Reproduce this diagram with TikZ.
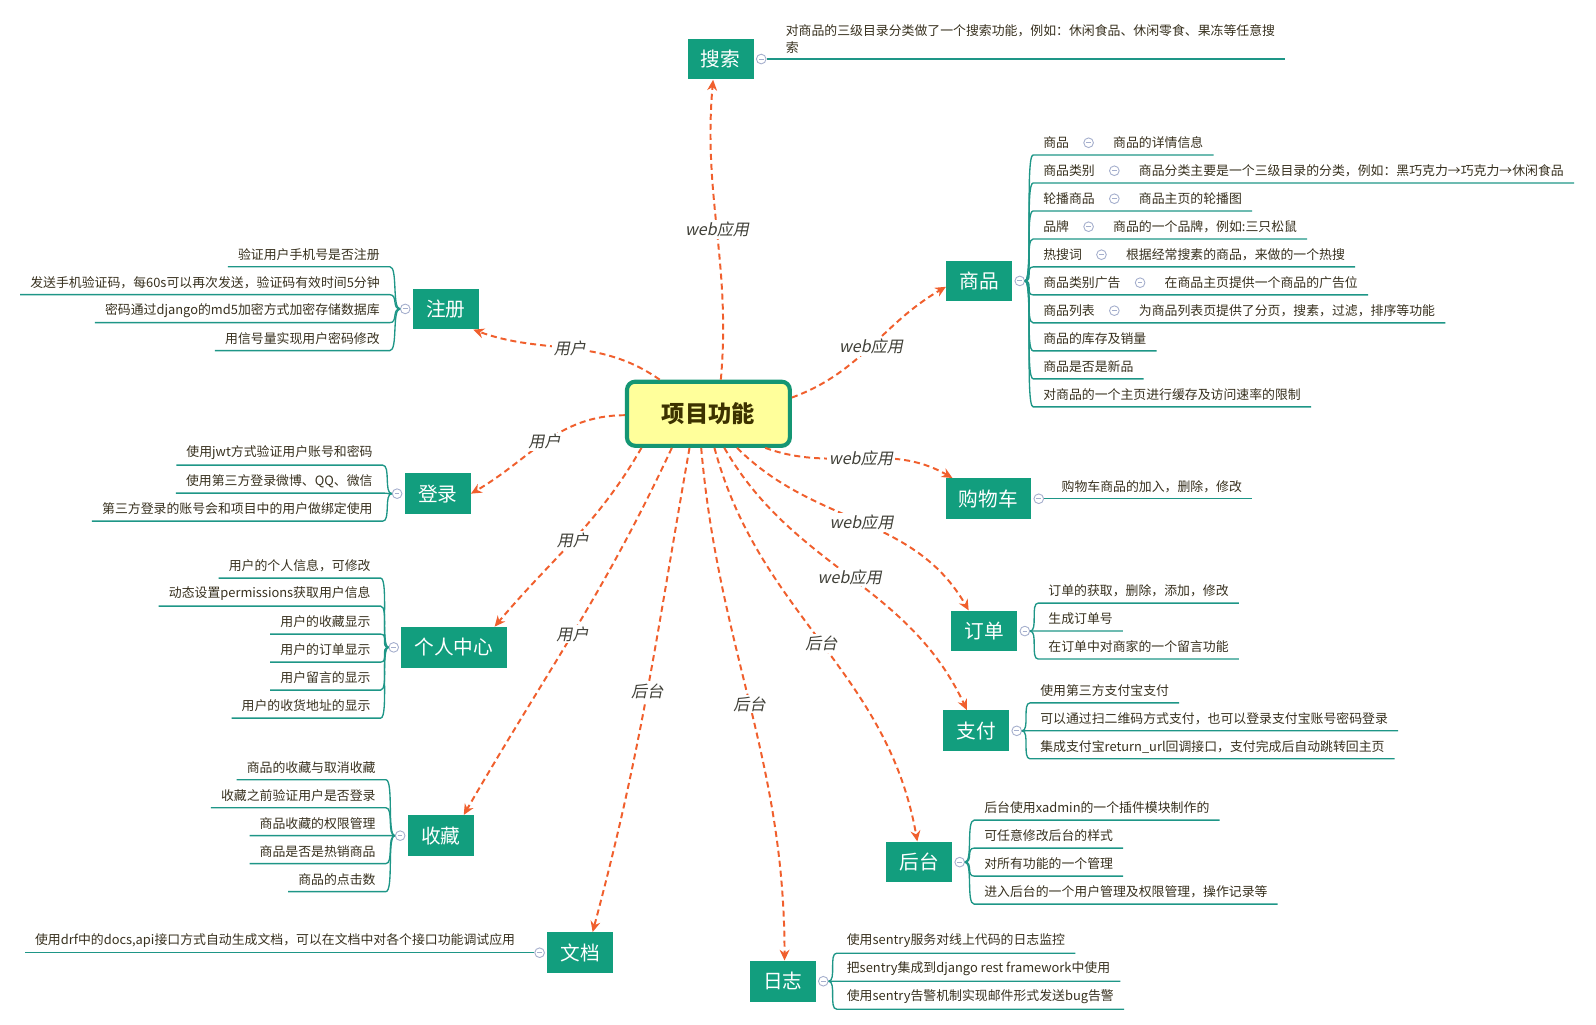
\documentclass[tikz,border=0pt]{standalone}
\usepackage{xcolor}
\usepackage{fontspec}
\setmainfont{Noto Sans CJK SC}
\newfontfamily\slantfont{Noto Sans CJK SC}[FakeSlant=0.2]
\usepackage{tikz}
\usetikzlibrary{arrows.meta, positioning}

\definecolor{topicgreen}{RGB}{18,158,126}
\definecolor{twiggreen}{RGB}{30,150,135}
\definecolor{rootyellow}{RGB}{255,255,155}
\definecolor{rootborder}{RGB}{20,150,115}
\definecolor{roottext}{RGB}{60,50,0}
\definecolor{linkorange}{RGB}{240,95,45}
\definecolor{leaftext}{RGB}{55,48,30}
\definecolor{tagtext}{RGB}{64,64,56}
\definecolor{foldgray}{RGB}{165,175,205}

\begin{document}
\begin{tikzpicture}[
    x=0.02cm, y=-0.02cm,
    node distance=0.07cm and 0pt,
    root/.style={rectangle, draw=rootborder, line width=2.3pt, fill=rootyellow, rounded corners=0.16cm, minimum width=3.2cm, minimum height=1.26cm, text=roottext, font=\fontsize{13}{15}\selectfont\bfseries},
    topic/.style={rectangle, fill=topicgreen, text=white, minimum height=0.8cm, inner xsep=0.26cm, font=\fontsize{11}{13}\selectfont},
    leaf/.style={rectangle, minimum height=0.48cm, inner ysep=0pt, inner xsep=0.2cm, outer sep=0pt, text=leaftext, font=\fontsize{7.2}{9.7}\selectfont},
    fold/.style={circle, draw=foldgray, fill=white, line width=0.5pt, minimum size=0.19cm, inner sep=0pt, path picture={\draw[foldgray, line width=0.5pt] ([xshift=-1.3pt]path picture bounding box.center) -- ([xshift=1.3pt]path picture bounding box.center);}},
    twig/.style={draw=twiggreen, line width=0.75pt},
    rtwig/.style={twig, out=0, in=180, distance=0.16cm},
    ltwig/.style={twig, out=180, in=0, distance=0.16cm},
    link/.style={-{Stealth[length=6pt, width=5.5pt]}, draw=linkorange, line width=1.1pt, dash pattern=on 3.4pt off 2.2pt},
    tag/.style={fill=white, inner sep=1pt, text=tagtext, font=\fontsize{9}{11}\selectfont\slantfont}
]
\useasboundingbox (0,0) rectangle (1568,1007);

% Central topic
\node[root] (root) at (696,406.5) {项目功能};

% Main topics
\node[topic] (search) at (708,58) {搜索};
\node[topic] (reg) at (438,303.5) {注册};
\node[topic] (login) at (430,485) {登录};
\node[topic] (center) at (446,636) {个人中心};
\node[topic] (fav) at (433,821) {收藏};
\node[topic] (doc) at (570,936) {文档};
\node[topic] (log) at (769,964) {日志};
\node[topic] (admin) at (903,847) {后台};
\node[topic] (pay) at (959,718) {支付};
\node[topic] (order) at (967,620) {订单};
\node[topic] (cart) at (971,490) {购物车};
\node[topic] (goods) at (962,276) {商品};

% Fold markers
\node[fold, right=0.04cm of search] (searchmk) {};
\node[fold, left=0.04cm of reg] (regmk) {};
\node[fold, left=0.04cm of login] (loginmk) {};
\node[fold, left=0.04cm of center] (centermk) {};
\node[fold, left=0.04cm of fav] (favmk) {};
\node[fold, left=0.04cm of doc] (docmk) {};
\node[fold, right=0.04cm of log] (logmk) {};
\node[fold, right=0.04cm of admin] (adminmk) {};
\node[fold, right=0.04cm of pay] (paymk) {};
\node[fold, right=0.04cm of order] (ordermk) {};
\node[fold, right=0.04cm of cart] (cartmk) {};
\node[fold, right=0.04cm of goods] (goodsmk) {};

% 搜索
\node[leaf, anchor=south west, align=left, minimum height=0pt, inner ysep=3pt] (search1) at (762,58) {对商品的三级目录分类做了一个搜索功能，例如：休闲食品、休闲零食、果冻等任意搜\\索};
\draw[twig] (searchmk.east) -- (search1.south west) -- (search1.south east);

% 注册
\node[leaf, anchor=south east] (reg1) at (383,262) {验证用户手机号是否注册};
\node[leaf, below left=of reg1.south east] (reg2) {发送手机验证码，每60s可以再次发送，验证码有效时间5分钟};
\node[leaf, below left=of reg2.south east] (reg3) {密码通过django的md5加密方式加密存储数据库};
\node[leaf, below left=of reg3.south east] (reg4) {用信号量实现用户密码修改};
\draw[ltwig] (regmk.west) to (reg1.south east) -- (reg1.south west);
\draw[ltwig] (regmk.west) to (reg2.south east) -- (reg2.south west);
\draw[ltwig] (regmk.west) to (reg3.south east) -- (reg3.south west);
\draw[ltwig] (regmk.west) to (reg4.south east) -- (reg4.south west);

% 登录
\node[leaf, anchor=south east] (login1) at (376,457) {使用jwt方式验证用户账号和密码};
\node[leaf, below left=of login1.south east] (login2) {使用第三方登录微博、QQ、微信};
\node[leaf, below left=of login2.south east] (login3) {第三方登录的账号会和项目中的用户做绑定使用};
\draw[ltwig] (loginmk.west) to (login1.south east) -- (login1.south west);
\draw[ltwig] (loginmk.west) to (login2.south east) -- (login2.south west);
\draw[ltwig] (loginmk.west) to (login3.south east) -- (login3.south west);

% 个人中心
\node[leaf, anchor=south east] (center1) at (374,568) {用户的个人信息，可修改};
\node[leaf, below left=of center1.south east] (center2) {动态设置permissions获取用户信息};
\node[leaf, below left=of center2.south east] (center3) {用户的收藏显示};
\node[leaf, below left=of center3.south east] (center4) {用户的订单显示};
\node[leaf, below left=of center4.south east] (center5) {用户留言的显示};
\node[leaf, below left=of center5.south east] (center6) {用户的收货地址的显示};
\draw[ltwig] (centermk.west) to (center1.south east) -- (center1.south west);
\draw[ltwig] (centermk.west) to (center2.south east) -- (center2.south west);
\draw[ltwig] (centermk.west) to (center3.south east) -- (center3.south west);
\draw[ltwig] (centermk.west) to (center4.south east) -- (center4.south west);
\draw[ltwig] (centermk.west) to (center5.south east) -- (center5.south west);
\draw[ltwig] (centermk.west) to (center6.south east) -- (center6.south west);

% 收藏
\node[leaf, anchor=south east] (fav1) at (379,766) {商品的收藏与取消收藏};
\node[leaf, below left=of fav1.south east] (fav2) {收藏之前验证用户是否登录};
\node[leaf, below left=of fav2.south east] (fav3) {商品收藏的权限管理};
\node[leaf, below left=of fav3.south east] (fav4) {商品是否是热销商品};
\node[leaf, below left=of fav4.south east] (fav5) {商品的点击数};
\draw[ltwig] (favmk.west) to (fav1.south east) -- (fav1.south west);
\draw[ltwig] (favmk.west) to (fav2.south east) -- (fav2.south west);
\draw[ltwig] (favmk.west) to (fav3.south east) -- (fav3.south west);
\draw[ltwig] (favmk.west) to (fav4.south east) -- (fav4.south west);
\draw[ltwig] (favmk.west) to (fav5.south east) -- (fav5.south west);

% 文档
\node[leaf, anchor=south east] (doc1) at (516,936) {使用drf中的docs,api接口方式自动生成文档，可以在文档中对各个接口功能调试应用};
\draw[twig] (docmk.west) -- (doc1.south east) -- (doc1.south west);

% 日志
\node[leaf, anchor=south west] (log1) at (822,936.5) {使用sentry服务对线上代码的日志监控};
\node[leaf, below right=of log1.south west] (log2) {把sentry集成到django rest framework中使用};
\node[leaf, below right=of log2.south west] (log3) {使用sentry告警机制实现邮件形式发送bug告警};
\draw[rtwig] (logmk.east) to (log1.south west) -- (log1.south east);
\draw[rtwig] (logmk.east) to (log2.south west) -- (log2.south east);
\draw[rtwig] (logmk.east) to (log3.south west) -- (log3.south east);

% 后台
\node[leaf, anchor=south west] (admin1) at (957,805.75) {后台使用xadmin的一个插件模块制作的};
\node[leaf, below right=of admin1.south west] (admin2) {可任意修改后台的样式};
\node[leaf, below right=of admin2.south west] (admin3) {对所有功能的一个管理};
\node[leaf, below right=of admin3.south west] (admin4) {进入后台的一个用户管理及权限管理，操作记录等};
\draw[rtwig] (adminmk.east) to (admin1.south west) -- (admin1.south east);
\draw[rtwig] (adminmk.east) to (admin2.south west) -- (admin2.south east);
\draw[rtwig] (adminmk.east) to (admin3.south west) -- (admin3.south east);
\draw[rtwig] (adminmk.east) to (admin4.south west) -- (admin4.south east);

% 支付
\node[leaf, anchor=south west] (pay1) at (1012,690.5) {使用第三方支付宝支付};
\node[leaf, below right=of pay1.south west] (pay2) {可以通过扫二维码方式支付，也可以登录支付宝账号密码登录};
\node[leaf, below right=of pay2.south west] (pay3) {集成支付宝return\_url回调接口，支付完成后自动跳转回主页};
\draw[rtwig] (paymk.east) to (pay1.south west) -- (pay1.south east);
\draw[rtwig] (paymk.east) to (pay2.south west) -- (pay2.south east);
\draw[rtwig] (paymk.east) to (pay3.south west) -- (pay3.south east);

% 订单
\node[leaf, anchor=south west] (order1) at (1020,592.5) {订单的获取，删除，添加，修改};
\node[leaf, below right=of order1.south west] (order2) {生成订单号};
\node[leaf, below right=of order2.south west] (order3) {在订单中对商家的一个留言功能};
\draw[rtwig] (ordermk.east) to (order1.south west) -- (order1.south east);
\draw[rtwig] (ordermk.east) to (order2.south west) -- (order2.south east);
\draw[rtwig] (ordermk.east) to (order3.south west) -- (order3.south east);

% 购物车
\node[leaf, anchor=south west] (cart1) at (1033,490) {购物车商品的加入，删除，修改};
\draw[twig] (cartmk.east) -- (cart1.south west) -- (cart1.south east);

% 商品
\node[leaf, anchor=south west] (goods1) at (1015,152.25) {商品};
\node[leaf, below right=of goods1.south west] (goods2) {商品类别};
\node[leaf, below right=of goods2.south west] (goods3) {轮播商品};
\node[leaf, below right=of goods3.south west] (goods4) {品牌};
\node[leaf, below right=of goods4.south west] (goods5) {热搜词};
\node[leaf, below right=of goods5.south west] (goods6) {商品类别广告};
\node[leaf, below right=of goods6.south west] (goods7) {商品列表};
\node[leaf, below right=of goods7.south west] (goods8) {商品的库存及销量};
\node[leaf, below right=of goods8.south west] (goods9) {商品是否是新品};
\node[leaf, below right=of goods9.south west] (goods10) {对商品的一个主页进行缓存及访问速率的限制};

\node[fold, right=0.08cm of goods1] (goods1mk) {};
\node[leaf, right=0.18cm of goods1mk] (goods1a) {商品的详情信息};
\node[fold, right=0.08cm of goods2] (goods2mk) {};
\node[leaf, right=0.18cm of goods2mk] (goods2a) {商品分类主要是一个三级目录的分类，例如：黑巧克力→巧克力→休闲食品};
\node[fold, right=0.08cm of goods3] (goods3mk) {};
\node[leaf, right=0.18cm of goods3mk] (goods3a) {商品主页的轮播图};
\node[fold, right=0.08cm of goods4] (goods4mk) {};
\node[leaf, right=0.18cm of goods4mk] (goods4a) {商品的一个品牌，例如:三只松鼠};
\node[fold, right=0.08cm of goods5] (goods5mk) {};
\node[leaf, right=0.18cm of goods5mk] (goods5a) {根据经常搜素的商品，来做的一个热搜};
\node[fold, right=0.08cm of goods6] (goods6mk) {};
\node[leaf, right=0.18cm of goods6mk] (goods6a) {在商品主页提供一个商品的广告位};
\node[fold, right=0.08cm of goods7] (goods7mk) {};
\node[leaf, right=0.18cm of goods7mk] (goods7a) {为商品列表页提供了分页，搜素，过滤，排序等功能};

\draw[rtwig] (goodsmk.east) to (goods1.south west) -- (goods1a.south east);
\draw[rtwig] (goodsmk.east) to (goods2.south west) -- (goods2a.south east);
\draw[rtwig] (goodsmk.east) to (goods3.south west) -- (goods3a.south east);
\draw[rtwig] (goodsmk.east) to (goods4.south west) -- (goods4a.south east);
\draw[rtwig] (goodsmk.east) to (goods5.south west) -- (goods5a.south east);
\draw[rtwig] (goodsmk.east) to (goods6.south west) -- (goods6a.south east);
\draw[rtwig] (goodsmk.east) to (goods7.south west) -- (goods7a.south east);
\draw[rtwig] (goodsmk.east) to (goods8.south west) -- (goods8.south east);
\draw[rtwig] (goodsmk.east) to (goods9.south west) -- (goods9.south east);
\draw[rtwig] (goodsmk.east) to (goods10.south west) -- (goods10.south east);

% Links from the central topic
\draw[link] (root.70) to[out=85, in=-95] node[tag] {web应用} (search.250);
\draw[link] (root.145) to[out=145, in=-20] node[tag] {用户} (reg.-37);
\draw[link] (root.181) to[out=180, in=30] node[tag] {用户} (login.east);
\draw[link] (root.207) to[out=-120, in=50] node[tag] {用户} (center.27);
\draw[link] (root.223) to[out=-115, in=60] node[tag] {用户} (fav.42);
\draw[link] (root.241) to[out=-100, in=75] node[tag] {后台} (doc.59);
\draw[link] (root.258) to[out=-85, in=90] node[tag] {后台} (log.85);
\draw[link] (root.280) to[out=-75, in=100] node[tag] {后台} (admin.95);
\draw[link] (root.295) to[out=-60, in=115] node[tag] {web应用} (pay.114);
\draw[link] (root.310) to[out=-45, in=120] node[tag] {web应用} (order.127);
\draw[link] (root.329) to[out=-20, in=150] node[tag] {web应用} (cart.150);
\draw[link] (root.11) to[out=20, in=210] node[tag] {web应用} (goods.190);

\end{tikzpicture}
\end{document}
